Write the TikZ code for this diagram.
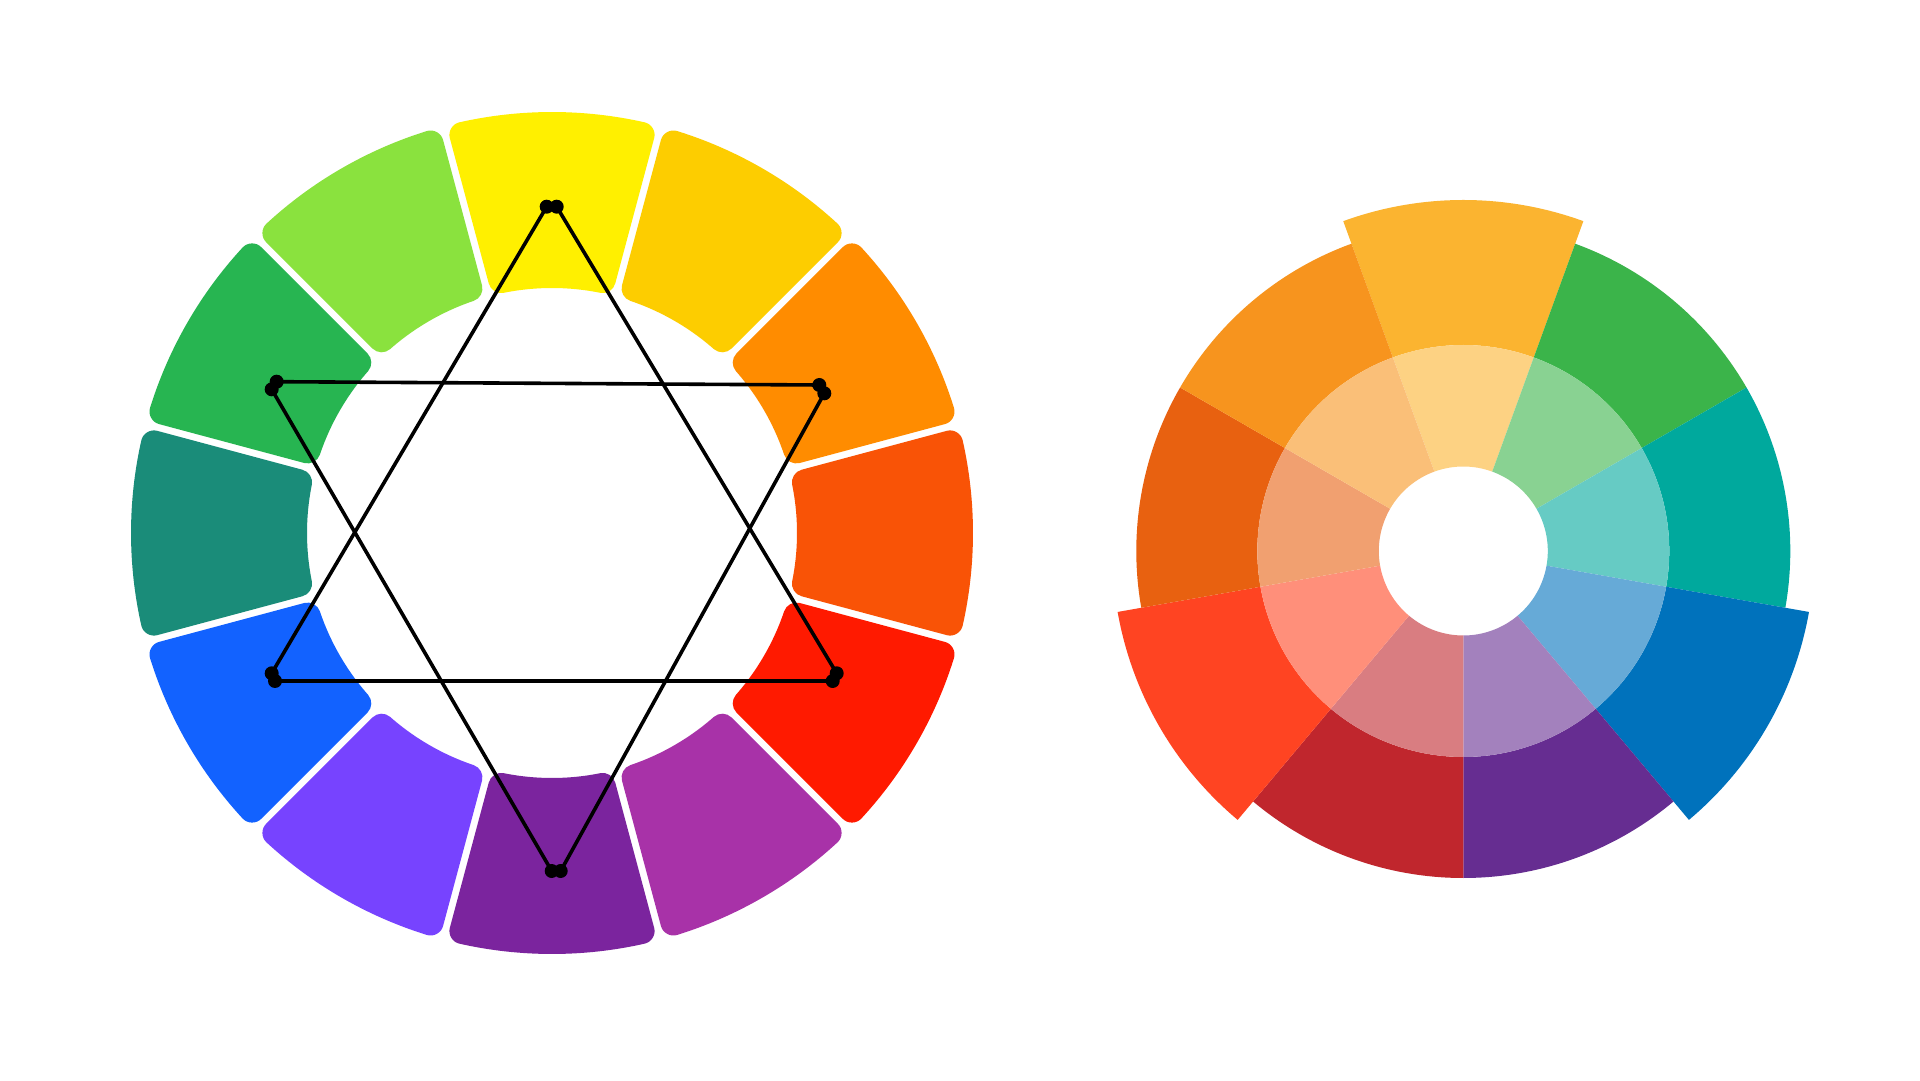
\documentclass[tikz,border=0pt]{standalone}
\definecolor{lY}{HTML}{FFF000}
\definecolor{lGo}{HTML}{FDCD00}
\definecolor{lOr}{HTML}{FF8C00}
\definecolor{lRo}{HTML}{F95306}
\definecolor{lRd}{HTML}{FF1A00}
\definecolor{lMg}{HTML}{A832A8}
\definecolor{lPu}{HTML}{7B249E}
\definecolor{lVi}{HTML}{7743FF}
\definecolor{lBl}{HTML}{1262FF}
\definecolor{lTe}{HTML}{1A8C79}
\definecolor{lGr}{HTML}{27B551}
\definecolor{lYg}{HTML}{8AE23E}
\definecolor{rA}{HTML}{FBB430}
\definecolor{rB}{HTML}{3BB44A}
\definecolor{rC}{HTML}{00A99D}
\definecolor{rD}{HTML}{0072BC}
\definecolor{rE}{HTML}{662D91}
\definecolor{rF}{HTML}{C0262D}
\definecolor{rG}{HTML}{FF4422}
\definecolor{rH}{HTML}{E86110}
\definecolor{rI}{HTML}{F7941E}
\tikzset{
  starline/.style={line width=3.6pt, black},
  stardot/.style={fill=black}
}
\begin{document}
\begin{tikzpicture}[x=1pt,y=1pt]
\useasboundingbox[fill=white] (0,0) rectangle (1920,1080);
% ---------- left wheel ----------
\begin{scope}[shift={(552,547)}]
\foreach \ang/\col in {90/lY,60/lGo,30/lOr,0/lRo,-30/lRd,-60/lMg,-90/lPu,-120/lVi,-150/lBl,180/lTe,150/lGr,120/lYg}{
  \pgfmathsetmacro{\Ro}{421-13}
  \pgfmathsetmacro{\Ri}{245+13}
  \pgfmathsetmacro{\dd}{16.5}
  \pgfmathsetmacro{\ao}{asin(\dd/\Ro)}
  \pgfmathsetmacro{\ai}{asin(\dd/\Ri)}
  \pgfmathsetmacro{\aA}{\ang-15+\ao}
  \pgfmathsetmacro{\aB}{\ang+15-\ao}
  \pgfmathsetmacro{\bA}{\ang-15+\ai}
  \pgfmathsetmacro{\bB}{\ang+15-\ai}
  \filldraw[fill=\col,draw=\col,line width=26pt,line join=round]
    (\aA:\Ro pt) arc[start angle=\aA,end angle=\aB,radius=\Ro pt]
    -- (\bB:\Ri pt) arc[start angle=\bB,end angle=\bA,radius=\Ri pt] -- cycle;
}
\end{scope}
% ---------- star ----------
\coordinate (t1) at (546.7,873.3);
\coordinate (t2) at (556.7,873.3);
\coordinate (bl1) at (271.7,406.7);
\coordinate (bl2) at (275,399);
\coordinate (br1) at (836.7,406.7);
\coordinate (br2) at (832.7,399);
\coordinate (ul1) at (276.7,698.3);
\coordinate (ul2) at (271.7,690.7);
\coordinate (ur1) at (819.3,695);
\coordinate (ur2) at (824.3,686.7);
\coordinate (b1) at (551.7,209);
\coordinate (b2) at (560.7,209);
\draw[starline] (t1) -- (bl1);
\draw[starline] (t2) -- (br1);
\draw[starline] (bl2) -- (br2);
\draw[starline] (ul1) -- (ur1);
\draw[starline] (ul2) -- (b1);
\draw[starline] (ur2) -- (b2);
\foreach \p in {t1,t2,bl1,bl2,br1,br2,ul1,ul2,ur1,ur2,b1,b2}
  \fill[stardot] (\p) circle[radius=7pt];
% ---------- right wheel ----------
\begin{scope}[shift={(1463.3,529)}]
\foreach \s/\R/\col in {70/351/rA,30/327/rB,-10/327/rC,-50/351/rD,-90/327/rE,-130/327/rF,-170/351/rG,150/327/rH,110/327/rI}{
  \fill[\col] (\s:206pt) -- (\s:\R pt) arc[start angle=\s,end angle=\s+40,radius=\R pt]
     -- ({\s+40}:206pt) arc[start angle=\s+40,end angle=\s,radius=206pt] -- cycle;
  \fill[\col!60!white] (\s:84.5pt) -- (\s:206pt) arc[start angle=\s,end angle=\s+40,radius=206pt]
     -- ({\s+40}:84.5pt) arc[start angle=\s+40,end angle=\s,radius=84.5pt] -- cycle;
}
\end{scope}
\end{tikzpicture}
\end{document}
